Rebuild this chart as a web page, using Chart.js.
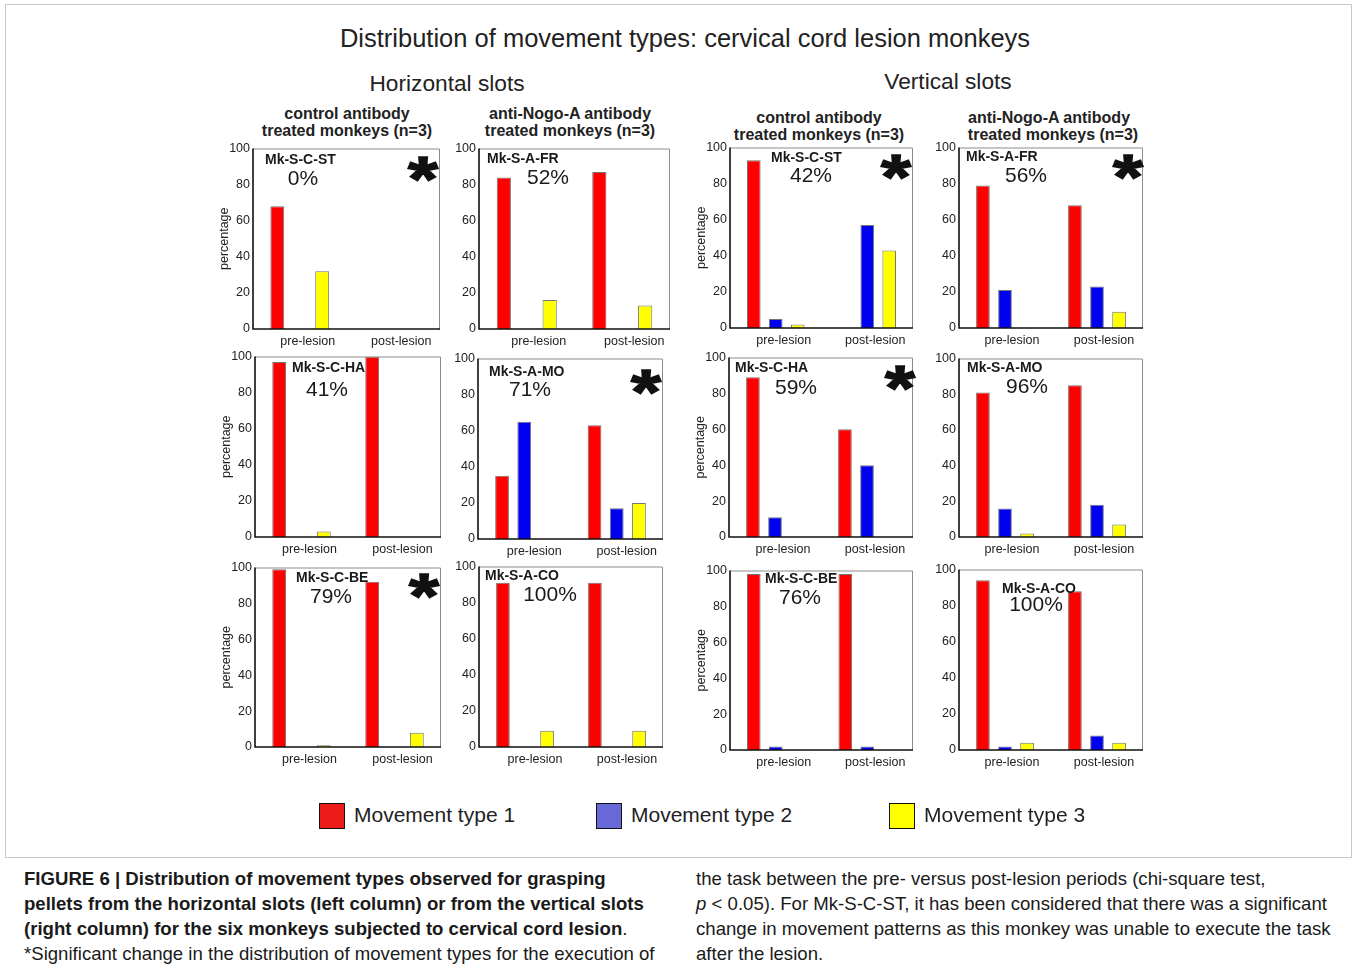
<!DOCTYPE html>
<html>
<head>
<meta charset="utf-8">
<script src="https://cdn.jsdelivr.net/npm/chart.js@4.4.1/dist/chart.umd.min.js"></script>
<style>
  body { margin:0; background:#fff; width:1356px; height:972px; position:relative; overflow:hidden;
         font-family:"Liberation Sans", Arial, sans-serif; color:#222; }
  .t { position:absolute; white-space:nowrap; transform:translate(-50%,-50%); }
  .l { position:absolute; white-space:nowrap; transform:translate(0,-50%); }
  canvas { position:absolute; }
  .frame { position:absolute; left:5px; top:4px; width:1345px; height:852px; border:1px solid #c8c8c8; }
  .sw { position:absolute; width:24px; height:24px; border:1px solid #111; }
  .cap { position:absolute; white-space:nowrap; font-size:18.6px; line-height:25px; color:#1a1a1a; }
  .cap b { font-weight:bold; }
</style>
</head>
<body>
<div class="frame"></div>

<div class="t" style="left:685px;top:38px;font-size:25.5px;">Distribution of movement types: cervical cord lesion monkeys</div>
<div class="t" style="left:447px;top:83px;font-size:22.7px;">Horizontal slots</div>
<div class="t" style="left:948px;top:81px;font-size:22.7px;">Vertical slots</div>

<div class="t" style="left:347px;top:114px;font-size:16px;font-weight:bold;">control antibody</div>
<div class="t" style="left:347px;top:131px;font-size:16px;font-weight:bold;">treated monkeys (n=3)</div>
<div class="t" style="left:570px;top:114px;font-size:16px;font-weight:bold;">anti-Nogo-A antibody</div>
<div class="t" style="left:570px;top:131px;font-size:16px;font-weight:bold;">treated monkeys (n=3)</div>
<div class="t" style="left:819px;top:118px;font-size:16px;font-weight:bold;">control antibody</div>
<div class="t" style="left:819px;top:135px;font-size:16px;font-weight:bold;">treated monkeys (n=3)</div>
<div class="t" style="left:1049px;top:118px;font-size:16px;font-weight:bold;">anti-Nogo-A antibody</div>
<div class="t" style="left:1053px;top:135px;font-size:16px;font-weight:bold;">treated monkeys (n=3)</div>

<div id="panels"></div>

<div id="legend"></div>

<div class="cap" style="left:24px;top:866px;">
  <b>FIGURE 6 | Distribution of movement types observed for grasping</b><br>
  <b>pellets from the horizontal slots (left column) or from the vertical slots</b><br>
  <b>(right column) for the six monkeys subjected to cervical cord lesion</b>.<br>
  *Significant change in the distribution of movement types for the execution of
</div>
<div class="cap" style="left:696px;top:866px;">
  the task between the pre- versus post-lesion periods (chi-square test,<br>
  <i>p</i> &lt; 0.05). For Mk-S-C-ST, it has been considered that there was a significant<br>
  change in movement patterns as this monkey was unable to execute the task<br>
  after the lesion.
</div>

<script>
// ---- data -------------------------------------------------------------
const categories = ['pre-lesion', 'post-lesion'];
const seriesNames = ['Movement type 1', 'Movement type 2', 'Movement type 3'];
const yTicks = [0, 20, 40, 60, 80, 100];

// panels in reading order: row by row, horizontal (control, anti-Nogo-A) then vertical (control, anti-Nogo-A)
const monkeys = ['Mk-S-C-ST', 'Mk-S-A-FR', 'Mk-S-C-ST', 'Mk-S-A-FR',
                 'Mk-S-C-HA', 'Mk-S-A-MO', 'Mk-S-C-HA', 'Mk-S-A-MO',
                 'Mk-S-C-BE', 'Mk-S-A-CO', 'Mk-S-C-BE', 'Mk-S-A-CO'];
const scores = ['0%', '52%', '42%', '56%', '41%', '71%', '59%', '96%', '79%', '100%', '76%', '100%'];
const significant = [true, false, true, true, false, true, true, false, true, false, false, false];

const type1Pre  = [68, 84, 93, 79, 97, 35, 89, 81, 99, 91, 98, 94];
const type1Post = [0, 87, 0, 68, 100, 63, 60, 85, 92, 91, 98, 88];
const type2Pre  = [0, 0, 5, 21, 0, 65, 11, 16, 0, 0, 2, 2];
const type2Post = [0, 0, 57, 23, 0, 17, 40, 18, 0, 0, 2, 8];
const type3Pre  = [32, 16, 2, 0, 3, 0, 0, 2, 1, 9, 0, 4];
const type3Post = [0, 13, 43, 9, 0, 20, 0, 7, 8, 9, 0, 4];

// ---- styling / layout -------------------------------------------------
const barColors = ['#ff0000', '#0000f0', '#ffff00'];
const swatchColors = ['#ee1b1b', '#6868d8', '#ffff00'];
const FONT = '"Liberation Sans", Arial, sans-serif';

// plot-area boxes [left, top, right, bottom] on the page
const boxes = [
  [253, 148, 440, 329], [479, 148, 670, 329], [730, 147, 913, 328], [959, 147, 1143, 328],
  [255, 356, 441, 537], [478, 358, 663, 539], [729, 357, 913, 537], [959, 358, 1143, 537],
  [255, 567, 441, 747], [479, 566, 663, 747], [730, 570, 913, 750], [959, 569, 1143, 750]
];
// label placement inside each plot: name [x, y], score [cx, cy], star offset from right edge [dx, cy]
const nameAt  = [[12,12],[8,11],[41,11],[7,10],[37,12],[11,14],[6,11],[8,10],[41,11],[6,10],[35,9],[43,20]];
const scoreAt = [[50,31],[69,30],[81,29],[67,29],[72,34],[52,32],[67,31],[68,29],[76,30],[71,29],[70,28],[77,36]];
const starAt  = [[17,20],null,[17,19],[15,19],null,[17,23],[13,20],null,[17,18],null,null,null];
const labelShift = [8, 12, 8, 7, 8, 10, 8, 7, 8, 10, 8, 7];
const withTitle = [true, false, true, false, true, false, true, false, true, false, true, false];

const PAD_L = 42, PAD_T = 10, PAD_R = 6, PAD_B = 24;
const STAR_W = 30, STAR_H = 24;

const panelDecor = {
  id: 'panelDecor',
  afterDatasetsDraw(chart, args, o) {
    const { ctx, chartArea: a } = chart;
    ctx.save();
    // light frame on top and right
    ctx.lineWidth = 1;
    ctx.strokeStyle = '#8c8c8c';
    ctx.beginPath();
    ctx.moveTo(a.left, a.top + 0.5);
    ctx.lineTo(a.right - 0.5, a.top + 0.5);
    ctx.lineTo(a.right - 0.5, a.bottom);
    ctx.stroke();
    // dark axes on left and bottom
    ctx.lineWidth = 1.6;
    ctx.strokeStyle = '#111';
    ctx.beginPath();
    ctx.moveTo(a.left, a.top);
    ctx.lineTo(a.left, a.bottom);
    ctx.lineTo(a.right, a.bottom);
    ctx.stroke();
    // monkey name
    ctx.fillStyle = '#1a1a1a';
    ctx.textBaseline = 'middle';
    ctx.textAlign = 'left';
    ctx.font = 'bold 14px ' + FONT;
    ctx.fillText(o.name, a.left + o.nameAt[0], a.top + o.nameAt[1]);
    // score
    ctx.textAlign = 'center';
    ctx.font = '21px ' + FONT;
    ctx.fillText(o.score, a.left + o.scoreAt[0], a.top + o.scoreAt[1]);
    // significance asterisk: heavy glyph fitted to a STAR_W x STAR_H ink box
    if (o.star) {
      ctx.textAlign = 'left';
      ctx.textBaseline = 'alphabetic';
      ctx.font = 'bold 100px ' + FONT;
      const m = ctx.measureText('*');
      const w = m.actualBoundingBoxLeft + m.actualBoundingBoxRight;
      const h = m.actualBoundingBoxAscent + m.actualBoundingBoxDescent;
      const sx = STAR_W / w, sy = STAR_H / h;
      const cx = a.right - o.star[0];
      const cy = a.top + o.star[1];
      ctx.translate(cx, cy);
      ctx.scale(sx, sy);
      const x = -(m.actualBoundingBoxRight - m.actualBoundingBoxLeft) / 2;
      const y = (m.actualBoundingBoxAscent - m.actualBoundingBoxDescent) / 2;
      ctx.fillStyle = '#111';
      ctx.strokeStyle = '#111';
      ctx.lineWidth = 2.5;
      ctx.lineJoin = 'miter';
      ctx.fillText('*', x, y);
      ctx.strokeText('*', x, y);
    }
    ctx.restore();
  }
};

const host = document.getElementById('panels');
const seriesData = [[type1Pre, type1Post], [type2Pre, type2Post], [type3Pre, type3Post]];

boxes.forEach((b, i) => {
  const cv = document.createElement('canvas');
  const w = (b[2] - b[0]) + PAD_L + PAD_R;
  const h = (b[3] - b[1]) + PAD_T + PAD_B;
  cv.width = w; cv.height = h;
  cv.style.left = (b[0] - PAD_L) + 'px';
  cv.style.top = (b[1] - PAD_T) + 'px';
  cv.style.width = w + 'px'; cv.style.height = h + 'px';
  host.appendChild(cv);

  const datasets = seriesNames.map((name, s) => ({
    label: name,
    data: [seriesData[s][0][i], seriesData[s][1][i]],
    backgroundColor: barColors[s],
    borderColor: 'rgba(70,70,70,0.75)',
    borderWidth: c => (c.raw > 0 ? 1 : 0),
    categoryPercentage: 0.72,
    barPercentage: 0.62
  }));

  new Chart(cv, {
    type: 'bar',
    data: { labels: categories, datasets },
    options: {
      responsive: false,
      animation: false,
      devicePixelRatio: 1,
      layout: { padding: { top: PAD_T, right: PAD_R, left: 0, bottom: 0 } },
      plugins: {
        legend: { display: false },
        tooltip: { enabled: false },
        panelDecor: {
          name: monkeys[i], score: scores[i],
          nameAt: nameAt[i], scoreAt: scoreAt[i],
          star: significant[i] ? starAt[i] : null
        }
      },
      scales: {
        x: {
          grid: { display: false, drawTicks: false },
          border: { display: false },
          ticks: { color: '#222', font: { family: FONT, size: 12.5 }, padding: 5, labelOffset: labelShift[i] },
          afterFit: s => { s.height = PAD_B; }
        },
        y: {
          min: 0, max: 100,
          grid: { display: false, drawTicks: false },
          border: { display: false },
          afterBuildTicks: s => { s.ticks = yTicks.map(v => ({ value: v })); },
          ticks: { color: '#222', font: { family: FONT, size: 12.5 }, padding: 3 },
          title: { display: withTitle[i], text: 'percentage', color: '#222',
                   font: { family: FONT, size: 12.5 }, padding: { top: 6, bottom: 0 } },
          afterFit: s => { s.width = PAD_L; }
        }
      }
    },
    plugins: [panelDecor]
  });
});

// shared legend
const legendX = [319, 596, 889];
const legend = document.getElementById('legend');
seriesNames.forEach((name, s) => {
  const sw = document.createElement('div');
  sw.className = 'sw';
  sw.style.left = legendX[s] + 'px';
  sw.style.top = '803px';
  sw.style.background = swatchColors[s];
  legend.appendChild(sw);
  const tx = document.createElement('div');
  tx.className = 'l';
  tx.style.left = (legendX[s] + 35) + 'px';
  tx.style.top = '815px';
  tx.style.fontSize = '21px';
  tx.textContent = name;
  legend.appendChild(tx);
});
</script>
</body>
</html>
